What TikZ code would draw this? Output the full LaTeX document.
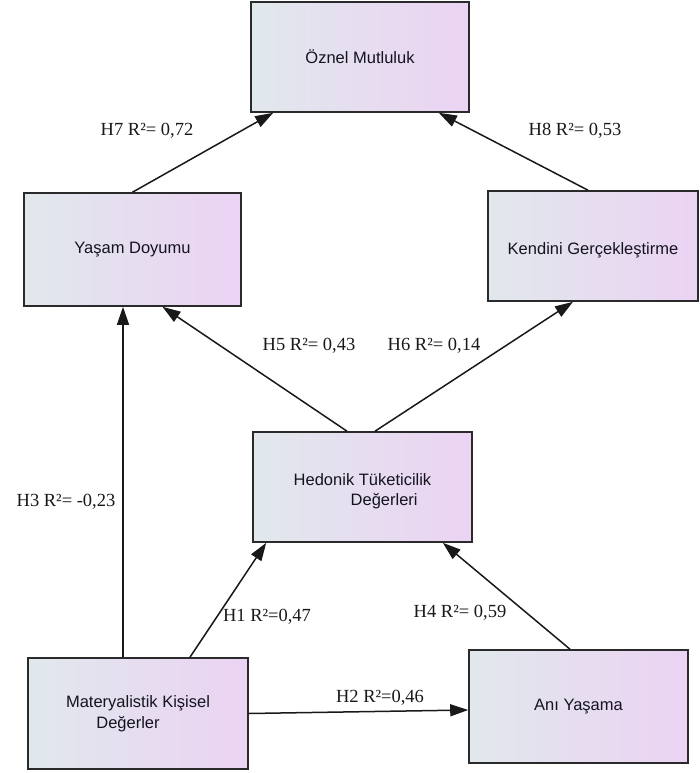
\documentclass[tikz,border=0pt]{standalone}
\usepackage{fontspec}
\setmainfont{Liberation Serif}
\newfontfamily\boxfont{Liberation Sans}
\usetikzlibrary{arrows.meta}
\definecolor{gradL}{HTML}{E1E8EC}
\definecolor{gradR}{HTML}{EBD3F3}
\definecolor{edgec}{HTML}{2A2A2A}
\definecolor{boxtext}{HTML}{141420}
\tikzset{
  vbox/.style={draw=edgec, line width=1.6pt, left color=gradL, right color=gradR,
    minimum width=#1, inner sep=0pt, font=\boxfont\fontsize{16.5}{20.5}\selectfont, text=boxtext},
  conn/.style={draw=black!90, line width=1.5pt, -{Triangle[length=18pt,width=12pt]}},
  lbl/.style={font=\fontsize{18.5}{22}\selectfont, inner sep=0pt, text=black!90}
}
\begin{document}
\begin{tikzpicture}[x=1pt,y=-1pt]
\useasboundingbox (0,0) rectangle (700,773);
\node[vbox=218pt, minimum height=110pt] (oz) at (360,57) {Öznel Mutluluk};
\node[vbox=217pt, minimum height=113pt] (yd) at (132.5,249.5) {Yaşam Doyumu};
\node[vbox=210pt, minimum height=110pt] (kg) at (593,246) {\rule{0pt}{20pt}Kendini Gerçekleştirme};
\node[vbox=219pt, minimum height=110pt, align=left] (hd) at (362.5,487) {\rule{0pt}{20pt}Hedonik Tüketicilik\\\hspace*{57pt}Değerleri};
\node[vbox=220pt, minimum height=111pt, align=center] (mk) at (138,713.5) {Materyalistik Kişisel\\Değerler\hspace*{20pt}};
\node[vbox=219pt, minimum height=113pt] (ay) at (578.5,706.5) {Anı Yaşama};

\draw[conn] (yd.north) -- ([xshift=23pt]oz.south west);
\draw[conn] ([xshift=-5pt]kg.north) -- ([xshift=-31pt]oz.south east);
\draw[conn] ([xshift=-15.5pt]hd.north) -- ([xshift=30pt]yd.south);
\draw[conn] ([xshift=12.5pt]hd.north) -- ([xshift=-20pt]kg.south);
\draw[conn] ([xshift=-15pt]mk.north) -- ([xshift=-15pt]mk.north |- yd.south);
\draw[conn] ([xshift=52pt]mk.north) -- ([xshift=14pt]hd.south west);
\draw[conn] ([xshift=-8.5pt]ay.north) -- ([xshift=-30pt]hd.south east);
\draw[conn] (mk.east) -- ([yshift=-3.5pt]ay.west);

\node[lbl] (l7) at (147,131) {H7 R²= 0,72};
\node[lbl] (l8) at (575,131) {H8 R²= 0,53};
\node[lbl] (l5) at (309,346) {H5 R²= 0,43};
\node[lbl] (l6) at (434,346) {H6 R²= 0,14};
\node[lbl] (l3) at (66,502) {H3 R²= -0,23};
\node[lbl] (l1) at (267,617) {H1 R²=0,47};
\node[lbl] (l4) at (460,613) {H4 R²= 0,59};
\node[lbl] (l2) at (380,698) {H2 R²=0,46};
\end{tikzpicture}
\end{document}
